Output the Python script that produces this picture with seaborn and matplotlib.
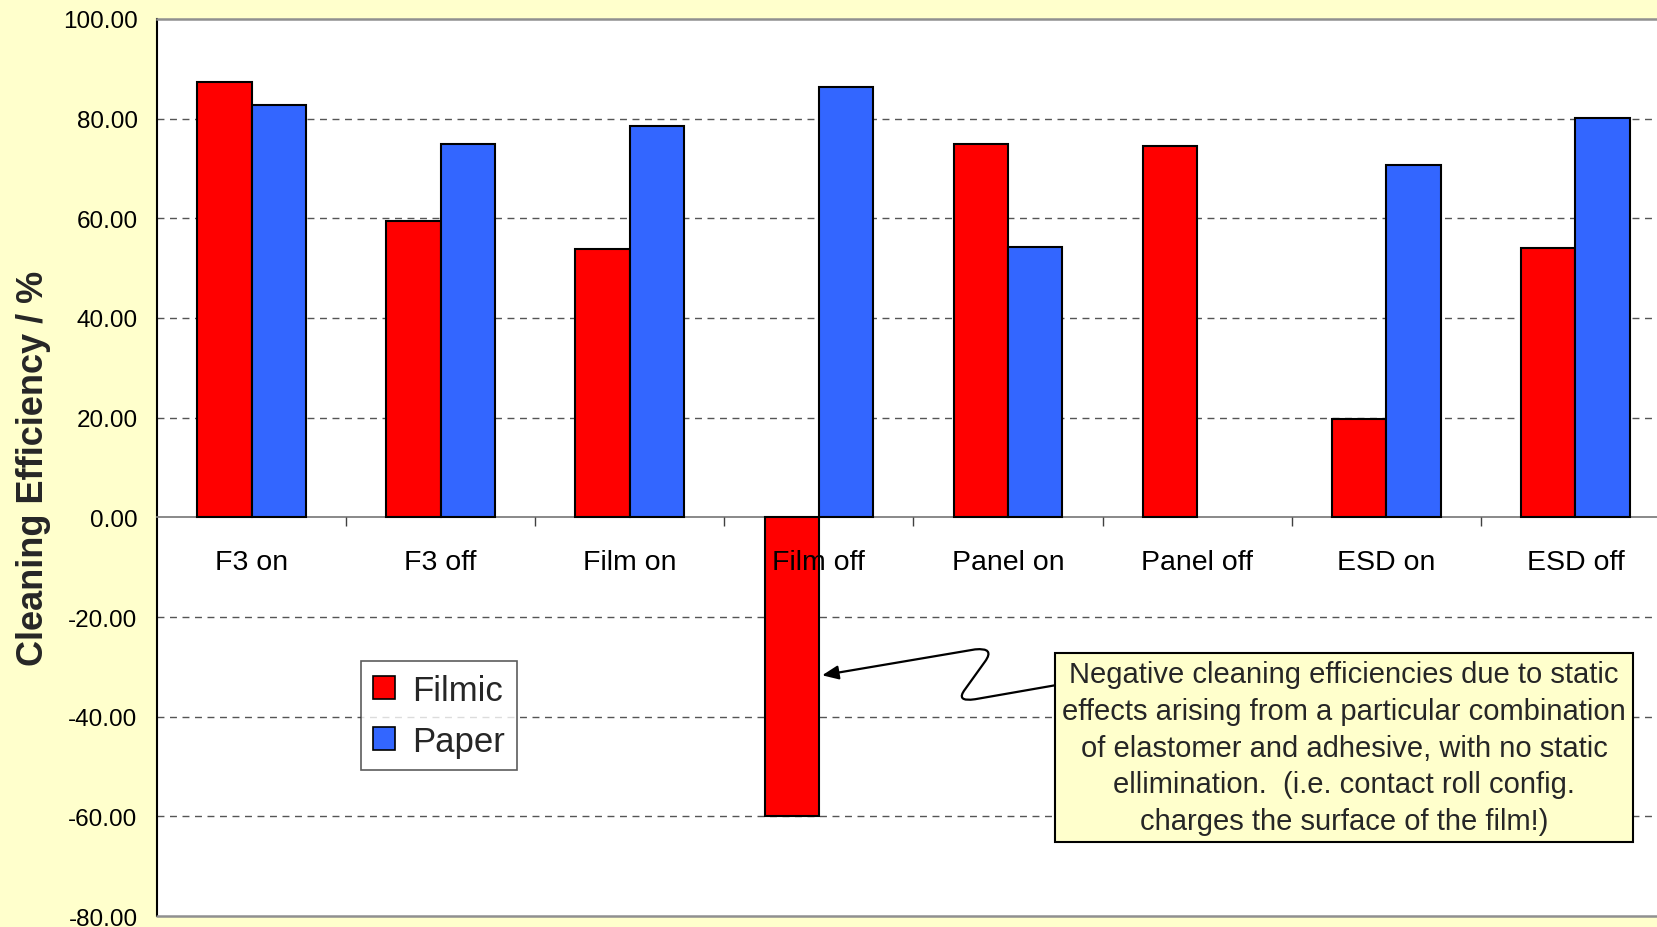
import numpy as np
import pandas as pd
import matplotlib
matplotlib.use("Agg")
import matplotlib.pyplot as plt
from matplotlib.patches import Patch, FancyArrowPatch
from matplotlib.path import Path
from matplotlib.ticker import FixedLocator, FuncFormatter
import seaborn as sns

# Cleaning efficiency (%) per test configuration
categories = ["F3 on", "F3 off", "Film on", "Film off",
              "Panel on", "Panel off", "ESD on", "ESD off"]
filmic = [87.3, 59.4, 53.9, -60.0, 74.9, 74.5, 19.8, 54.0]
paper = [82.7, 74.9, 78.6, 86.4, 54.2, np.nan, 70.7, 80.1]
series = ["Filmic", "Paper"]
colors = {"Filmic": "#FF0000", "Paper": "#3366FF"}
y_ticks = [-80, -60, -40, -20, 0, 20, 40, 60, 80, 100]
grid_levels = [-60, -40, -20, 20, 40, 60, 80]

note = ("Negative cleaning efficiencies due to static\n"
        "effects arising from a particular combination\n"
        "of elastomer and adhesive, with no static\n"
        "ellimination.  (i.e. contact roll config.\n"
        "charges the surface of the film!)")

df = pd.DataFrame({
    "Configuration": categories * 2,
    "Series": ["Filmic"] * len(categories) + ["Paper"] * len(categories),
    "Efficiency": filmic + paper,
})

sns.set_theme(style="white")
plt.rcParams["font.family"] = ["Liberation Sans", "DejaVu Sans"]

fig = plt.figure(figsize=(16.58, 9.28), dpi=100, facecolor="#FFFFCC")
ax = fig.add_axes([0.0947, 0.01185, 0.9125, 0.9666])
ax.set_facecolor("white")

# dashed gridlines behind the bars
for lvl in grid_levels:
    ax.axhline(lvl, linestyle=(0, (5, 4)), color="#555555", linewidth=1.0,
               zorder=1)

sns.barplot(data=df, x="Configuration", y="Efficiency", hue="Series",
            order=categories, hue_order=series, palette=colors,
            width=0.575, saturation=1, edgecolor="black", linewidth=1.5,
            errorbar=None, legend=False, ax=ax, zorder=3)

ax.set_xlim(-0.5, len(categories) - 0.5)
ax.set_ylim(-80, 100)

# y axis
ax.yaxis.set_major_locator(FixedLocator(y_ticks))
ax.yaxis.set_major_formatter(FuncFormatter(lambda v, _: f"{v:.2f}"))
ax.tick_params(axis="y", length=0, pad=14, labelsize=17.5, colors="black")
ax.set_ylabel("Cleaning Efficiency / %", fontsize=26, fontweight="bold")
ax.yaxis.set_label_coords(-0.070, 0.5)
ax.set_xlabel("")
ax.grid(False)

# x axis sits on the zero line, ticks between the categories
ax.spines["bottom"].set_position(("data", 0))
ax.spines["bottom"].set_color("#808080")
ax.spines["bottom"].set_linewidth(1.3)
ax.spines["bottom"].set_zorder(2.6)
ax.spines["left"].set_color("black")
ax.spines["left"].set_linewidth(1.5)
ax.spines["top"].set_color("#909090")
ax.spines["top"].set_linewidth(1.8)
ax.spines["right"].set_visible(False)
ax.xaxis.set_minor_locator(FixedLocator(np.arange(0.5, len(categories) - 0.5, 1)))
ax.tick_params(axis="x", which="major", length=0, pad=23, labelsize=20.5,
               colors="black")
ax.tick_params(axis="x", which="minor", length=6.5, width=1.0,
               direction="out", color="#404040", bottom=True)
ax.xaxis.set_zorder(4)
ax.axhline(-80, color="#909090", linewidth=1.8, zorder=2.6, clip_on=False)

# legend
handles = [Patch(facecolor=colors[s], edgecolor="black", linewidth=1.2, label=s)
           for s in series]
leg = ax.legend(handles=handles, loc="upper left",
                bbox_to_anchor=(0.2175, 0.2866), bbox_transform=fig.transFigure,
                borderaxespad=0, fontsize=25, frameon=True, fancybox=False,
                handlelength=0.62, handleheight=0.62, handletextpad=0.5,
                labelspacing=0.52, borderpad=0.36)
leg.get_frame().set_edgecolor("#333333")
leg.get_frame().set_linewidth(1.2)
leg.set_zorder(5)

# callout with curved leader line
verts = [(4.249, -33.7), (3.826, -36.5), (3.720, -37.1), (3.773, -34.5),
         (3.879, -28.9), (3.932, -26.1), (3.826, -26.5), (3.017, -31.7)]
codes = [Path.MOVETO, Path.LINETO, Path.CURVE3, Path.CURVE3,
         Path.LINETO, Path.CURVE3, Path.CURVE3, Path.LINETO]
leader = FancyArrowPatch(path=Path(verts, codes),
                         arrowstyle="-|>,head_length=0.7,head_width=0.3",
                         mutation_scale=14, color="black", linewidth=1.6,
                         zorder=6)
ax.add_patch(leader)

ax.text(5.777, -46.2, note, ha="center", va="center", fontsize=21,
        linespacing=1.39, zorder=7,
        bbox=dict(boxstyle="square,pad=0.25", facecolor="#FFFFCC",
                  edgecolor="black", linewidth=1.5))

fig.savefig("out.png", dpi=100, facecolor=fig.get_facecolor())
